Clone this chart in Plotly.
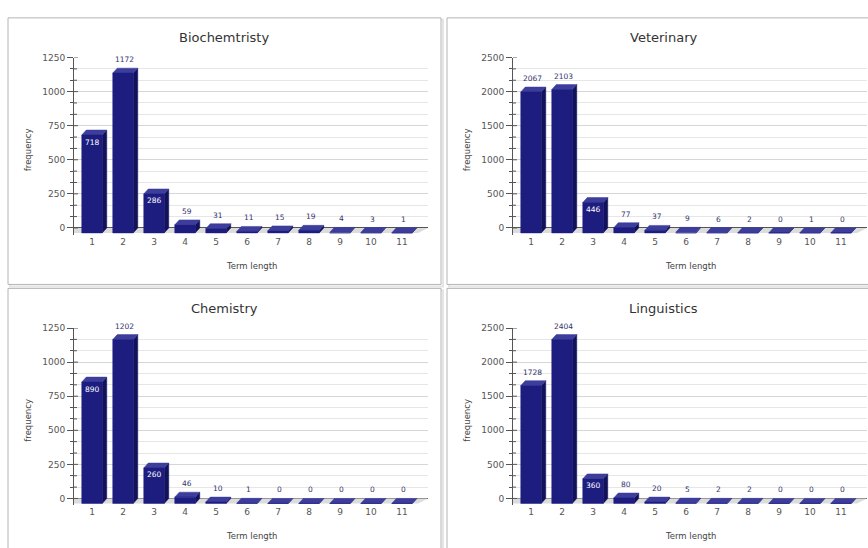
import plotly.graph_objects as go

# ---- data -------------------------------------------------------------
TERM_LENGTHS = [1, 2, 3, 4, 5, 6, 7, 8, 9, 10, 11]

BIOCHEMTRISTY = [718, 1172, 286, 59, 31, 11, 15, 19, 4, 3, 1]
VETERINARY = [2067, 2103, 446, 77, 37, 9, 6, 2, 0, 1, 0]
CHEMISTRY = [890, 1202, 260, 46, 10, 1, 0, 0, 0, 0, 0]
LINGUISTICS = [1728, 2404, 360, 80, 20, 5, 2, 2, 0, 0, 0]

TITLES = ["Biochemtristy", "Veterinary", "Chemistry", "Linguistics"]
SERIES = [BIOCHEMTRISTY, VETERINARY, CHEMISTRY, LINGUISTICS]

# ---- panel configuration ----------------------------------------------
W, H = 868, 548
FONT = "DejaVu Sans"

# panel left/top (px), y max, major step, term lengths labelled inside the bar
PANEL_CFG = [
    dict(left=8, top=13, ymax=1250, step=250, inside=[1, 3]),
    dict(left=447, top=13, ymax=2500, step=500, inside=[3]),
    dict(left=8, top=286, ymax=1250, step=250, inside=[1, 3]),
    dict(left=447, top=286, ymax=2500, step=500, inside=[3]),
]

CAT_PX = 31.0        # pixels per category
VAL_PX = 172.0       # pixels from 0 to ymax
DEPTH_X = 4.5        # 3D depth offset (px)
DEPTH_Y = 5.0
BAR_W = 20.5         # bar front width (px)

FRONT = "#1d1d80"
TOP = "#3d3d9c"
SIDE = "#12125a"
FLOOR = "#dcdcdc"
AXIS = "#555555"


def px(v, size):
    return v / size


fig = go.Figure()
annotations = []
shapes = []

for i, (title, values, cfg) in enumerate(zip(TITLES, SERIES, PANEL_CFG)):
    n = "" if i == 0 else str(i + 1)
    xref, yref = "x" + n, "y" + n
    L, T = cfg["left"], cfg["top"]
    ymax, step = cfg["ymax"], cfg["step"]

    # plot area in pixels
    ax_left = L + 66
    ax_right = min(L + 420, W)
    y_top = T + 40
    y_zero = y_top + VAL_PX
    y_bot = y_zero + 7

    upx = 1.0 / CAT_PX
    vpx = ymax / VAL_PX
    x0 = 1 - 18 * upx
    x1 = x0 + (ax_right - ax_left) * upx
    ymin = -(y_bot - y_zero) * vpx

    dx = DEPTH_X * upx
    dy = DEPTH_Y * vpx
    hw = BAR_W * upx / 2

    # floor
    fig.add_trace(go.Scatter(
        x=[x0, x1, x1 - 2.2 * dx, x0, x0], y=[0, 0, -dy, -dy, 0],
        fill="toself", fillcolor=FLOOR, line=dict(width=0),
        mode="lines", hoverinfo="skip", showlegend=False,
        xaxis=xref, yaxis=yref))

    fx, fy, tx, ty, sx, sy = [], [], [], [], [], []
    for c, v in zip(TERM_LENGTHS, values):
        a, b = c - hw, c + hw
        fx += [a, b, b, a, a, None]
        fy += [-dy, -dy, v - dy, v - dy, -dy, None]
        tx += [a, b, b + dx, a + dx, a, None]
        ty += [v - dy, v - dy, v, v, v - dy, None]
        sx += [b, b + dx, b + dx, b, b, None]
        sy += [-dy, 0, v, v - dy, -dy, None]

    for xs, ys, col in ((sx, sy, SIDE), (tx, ty, TOP), (fx, fy, FRONT)):
        fig.add_trace(go.Scatter(
            x=xs, y=ys, fill="toself", fillcolor=col,
            line=dict(color=col, width=0.5), mode="lines",
            hoverinfo="skip", showlegend=False, connectgaps=False,
            xaxis=xref, yaxis=yref))

    # inner half of the axis ticks
    majors = list(range(0, ymax + 1, step))
    minors = [k * step / 3 for k in range(0, 16) if k % 3]
    kx, ky = [], []
    for t in majors:
        kx += [x0, x0 + 4 * upx, None]
        ky += [t, t, None]
    for t in minors:
        kx += [x0, x0 + 3 * upx, None]
        ky += [t, t, None]
    fig.add_trace(go.Scatter(
        x=kx, y=ky, mode="lines", line=dict(color=AXIS, width=1),
        hoverinfo="skip", showlegend=False, xaxis=xref, yaxis=yref))

    # value labels
    for c, v in zip(TERM_LENGTHS, values):
        if c in cfg["inside"]:
            annotations.append(dict(
                x=c, y=v - dy, xref=xref, yref=yref, text=str(v),
                showarrow=False, yshift=-7, yanchor="middle",
                font=dict(family=FONT, size=7.5, color="white")))
        else:
            annotations.append(dict(
                x=c + 0.06, y=v, xref=xref, yref=yref, text=str(v),
                showarrow=False, yshift=8.5, yanchor="middle",
                font=dict(family=FONT, size=7.5, color="#33336e")))

    xdom = [px(ax_left, W), px(ax_right, W)]
    ydom = [1 - px(y_bot, H), 1 - px(y_top, H)]

    fig.layout["xaxis" + n] = dict(
        domain=xdom, range=[x0, x1], anchor=yref,
        tickmode="array", tickvals=TERM_LENGTHS,
        ticktext=[str(t) for t in TERM_LENGTHS],
        showgrid=False, zeroline=False, showline=False, ticks="",
        tickfont=dict(family=FONT, size=9, color=AXIS), fixedrange=True)
    fig.layout["yaxis" + n] = dict(
        domain=ydom, range=[ymin, ymax], anchor=xref,
        tickmode="array", tickvals=majors,
        showgrid=True, gridcolor="#d6d6d6", gridwidth=1,
        zeroline=True, zerolinecolor=AXIS, zerolinewidth=1,
        showline=True, linecolor=AXIS, linewidth=1,
        ticks="outside", ticklen=6, tickcolor=AXIS,
        minor=dict(tickmode="linear", tick0=0, dtick=step / 3,
                   ticks="outside", ticklen=3, tickcolor=AXIS,
                   showgrid=True, gridcolor="#e6e6e6", gridwidth=1),
        tickfont=dict(family=FONT, size=9, color=AXIS), fixedrange=True)

    # panel frame with a soft shadow on the right and bottom edges
    shapes.append(dict(
        type="rect", xref="paper", yref="paper",
        x0=px(L + 2, W), x1=px(L + 435, W),
        y0=1 - px(T + 271, H), y1=1 - px(T + 2, H),
        line=dict(color="#e4e4e4", width=2), layer="below"))
    shapes.append(dict(
        type="rect", xref="paper", yref="paper",
        x0=px(L, W), x1=px(L + 433, W),
        y0=1 - px(T + 269, H), y1=1 - px(T, H),
        fillcolor="white",
        line=dict(color="#b4b4b4", width=1), layer="below"))

    # titles
    annotations.append(dict(
        x=px(L + 216, W), y=1 - px(T + 20, H), xref="paper", yref="paper",
        text=title, showarrow=False, xanchor="center", yanchor="middle",
        font=dict(family=FONT, size=13, color="#333333")))
    annotations.append(dict(
        x=px(L + 20, W), y=1 - px((y_top + y_bot) / 2 + 4, H),
        xref="paper", yref="paper", text="frequency", textangle=-90,
        showarrow=False, xanchor="center", yanchor="middle",
        font=dict(family=FONT, size=8.5, color="#444444")))
    annotations.append(dict(
        x=px((ax_left + L + 420) / 2, W), y=1 - px(T + 250, H),
        xref="paper", yref="paper", text="Term length",
        showarrow=False, xanchor="center", yanchor="middle",
        font=dict(family=FONT, size=8.5, color="#444444")))

fig.update_layout(
    width=W, height=H, autosize=False,
    margin=dict(l=0, r=0, t=0, b=0, pad=0),
    paper_bgcolor="white", plot_bgcolor="white",
    showlegend=False, annotations=annotations, shapes=shapes,
)

fig.write_html("out.html", config={"displayModeBar": False})
